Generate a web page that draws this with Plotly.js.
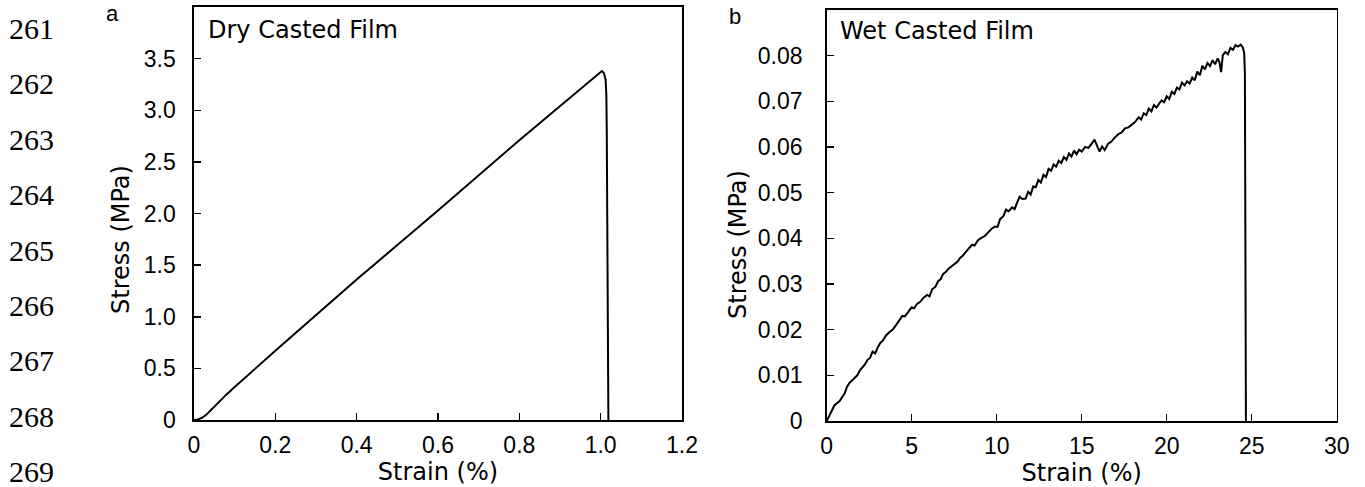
<!DOCTYPE html>
<html>
<head>
<meta charset="utf-8">
<script src="https://cdn.plot.ly/plotly-3.0.1.min.js"></script>
<style>html,body{margin:0;padding:0;background:#fff;}#chart{width:1365px;height:487px;}</style>
</head>
<body>
<div id="chart"></div>
<script>
// ---- Panel a: Dry Casted Film ----
var dryStrain = [0, 0.01, 0.02, 0.03, 0.04, 0.06, 0.08, 0.10, 0.20, 0.40, 0.60, 0.80, 0.95, 1.003, 1.008, 1.012, 1.014, 1.015, 1.019];
var dryStress = [0, 0.006, 0.022, 0.05, 0.09, 0.172, 0.248, 0.32, 0.67, 1.36, 2.03, 2.71, 3.21, 3.38, 3.36, 3.30, 3.15, 2.80, 0];

// ---- Panel b: Wet Casted Film ----
var wetStrain = [0.00,0.15,0.30,0.45,0.60,0.75,0.90,1.05,1.20,1.35,1.50,1.65,1.80,1.95,2.10,2.25,2.40,2.55,2.70,2.85,
  3.00,3.15,3.30,3.50,3.70,3.90,4.10,4.30,4.45,4.60,4.80,5.00,5.15,5.30,5.50,5.70,5.90,6.05,6.20,6.40,
  6.55,6.70,6.85,7.00,7.15,7.30,7.50,7.70,7.85,8.00,8.20,8.40,8.55,8.70,8.90,9.10,9.30,9.50,9.70,9.90,
  10.05,10.20,10.40,10.55,10.70,10.90,11.05,11.20,11.35,11.50,11.70,11.85,12.00,12.15,12.30,12.45,12.60,12.75,12.90,13.05,
  13.20,13.35,13.50,13.65,13.80,13.95,14.10,14.25,14.40,14.55,14.70,14.85,15.00,15.20,15.40,15.60,15.75,15.90,16.05,16.20,
  16.35,16.55,16.75,16.95,17.15,17.35,17.55,17.75,17.95,18.15,18.35,18.50,18.65,18.80,18.95,19.10,19.25,19.40,19.55,19.70,
  19.85,20.00,20.15,20.30,20.45,20.60,20.75,20.90,21.05,21.20,21.35,21.50,21.65,21.80,21.95,22.10,22.25,22.40,22.55,22.70,
  22.85,23.00,23.10,23.20,23.30,23.45,23.60,23.75,23.90,24.05,24.20,24.35,24.48,24.56,24.60,24.63,24.65,24.66];
var wetStress = [0.0000,0.0012,0.0022,0.0034,0.0039,0.0043,0.0052,0.0060,0.0075,0.0084,0.0089,0.0094,0.0100,0.0111,0.0117,0.0124,0.0134,0.0138,0.0152,0.0148,
  0.0161,0.0171,0.0176,0.0188,0.0195,0.0201,0.0211,0.0222,0.0230,0.0229,0.0240,0.0249,0.0247,0.0256,0.0261,0.0270,0.0276,0.0273,0.0288,0.0294,
  0.0306,0.0310,0.0322,0.0326,0.0333,0.0337,0.0343,0.0349,0.0357,0.0362,0.0371,0.0381,0.0386,0.0384,0.0396,0.0401,0.0405,0.0413,0.0421,0.0426,
  0.0425,0.0442,0.0449,0.0463,0.0459,0.0468,0.0464,0.0478,0.0491,0.0486,0.0487,0.0502,0.0496,0.0514,0.0512,0.0528,0.0522,0.0539,0.0534,0.0552,
  0.0548,0.0562,0.0557,0.0570,0.0565,0.0578,0.0572,0.0586,0.0579,0.0592,0.0584,0.0594,0.0590,0.0600,0.0598,0.0608,0.0616,0.0603,0.0590,0.0601,
  0.0593,0.0607,0.0612,0.0621,0.0628,0.0632,0.0641,0.0643,0.0650,0.0655,0.0665,0.0660,0.0674,0.0670,0.0684,0.0678,0.0692,0.0686,0.0695,0.0702,
  0.0698,0.0711,0.0705,0.0721,0.0716,0.0730,0.0726,0.0741,0.0735,0.0744,0.0739,0.0752,0.0746,0.0765,0.0757,0.0778,0.0770,0.0784,0.0777,0.0790,
  0.0781,0.0794,0.0786,0.0764,0.0801,0.0808,0.0803,0.0817,0.0813,0.0823,0.0820,0.0824,0.0818,0.0805,0.0760,0.0500,0.0200,0.0000];

// ---- Tick labels ----
var dryXTicks = [0, 0.2, 0.4, 0.6, 0.8, 1.0, 1.2];
var dryXLabels = ["0", "0.2", "0.4", "0.6", "0.8", "1.0", "1.2"];
var dryYTicks = [0, 0.5, 1.0, 1.5, 2.0, 2.5, 3.0, 3.5];
var dryYLabels = ["0", "0.5", "1.0", "1.5", "2.0", "2.5", "3.0", "3.5"];
var wetXTicks = [0, 5, 10, 15, 20, 25, 30];
var wetXLabels = ["0", "5", "10", "15", "20", "25", "30"];
var wetYTicks = [0, 0.01, 0.02, 0.03, 0.04, 0.05, 0.06, 0.07, 0.08];
var wetYLabels = ["0", "0.01", "0.02", "0.03", "0.04", "0.05", "0.06", "0.07", "0.08"];

var lineNumbers = ["261", "262", "263", "264", "265", "266", "267", "268", "269"];

var W = 1365, H = 487;
function px(x) { return x / W; }
function py(y) { return 1 - y / H; }

var tickFont = {family: "Liberation Sans, Arial, sans-serif", size: 23, color: "#000"};
var titleFont = {family: "DejaVu Sans, sans-serif", size: 24, color: "#000"};

function axisBase(extra) {
  var a = {
    showgrid: false, zeroline: false, showline: true, mirror: true,
    linecolor: "#000", linewidth: 1.6,
    ticks: "inside", ticklen: 7, tickwidth: 1.5, tickcolor: "#000",
    tickfont: tickFont, tickmode: "array", fixedrange: true
  };
  for (var k in extra) a[k] = extra[k];
  return a;
}

var traces = [
  {x: dryStrain, y: dryStress, type: "scatter", mode: "lines", line: {color: "#000", width: 2}, xaxis: "x", yaxis: "y", hoverinfo: "skip"},
  {x: wetStrain, y: wetStress, type: "scatter", mode: "lines", line: {color: "#000", width: 2}, xaxis: "x2", yaxis: "y2", hoverinfo: "skip"}
];

var annotations = [];
lineNumbers.forEach(function (t, i) {
  annotations.push({text: t, xref: "paper", yref: "paper", x: px(7), y: py(28.5 + 55.4 * i),
    xanchor: "left", yanchor: "middle", showarrow: false,
    font: {family: "Liberation Serif, Times New Roman, serif", size: 30, color: "#000"}});
});
annotations.push({text: "a", xref: "paper", yref: "paper", x: px(112), y: py(14), xanchor: "center", yanchor: "middle",
  showarrow: false, font: {family: "Liberation Sans, Arial, sans-serif", size: 22, color: "#000"}});
annotations.push({text: "b", xref: "paper", yref: "paper", x: px(735), y: py(16), xanchor: "center", yanchor: "middle",
  showarrow: false, font: {family: "Liberation Sans, Arial, sans-serif", size: 22, color: "#000"}});
annotations.push({text: "Dry Casted Film", xref: "paper", yref: "paper", x: px(206), y: py(30), xanchor: "left", yanchor: "middle",
  showarrow: false, font: titleFont});
annotations.push({text: "Wet Casted Film", xref: "paper", yref: "paper", x: px(838), y: py(31), xanchor: "left", yanchor: "middle",
  showarrow: false, font: titleFont});
annotations.push({text: "Stress (MPa)", xref: "paper", yref: "paper", x: px(121), y: py(240), xanchor: "center", yanchor: "middle",
  textangle: -90, showarrow: false, font: titleFont});
annotations.push({text: "Stress (MPa)", xref: "paper", yref: "paper", x: px(738), y: py(245), xanchor: "center", yanchor: "middle",
  textangle: -90, showarrow: false, font: titleFont});

var layout = {
  width: W, height: H,
  margin: {l: 0, r: 0, t: 0, b: 0, pad: 0},
  paper_bgcolor: "#fff", plot_bgcolor: "#fff",
  showlegend: false,
  xaxis: axisBase({domain: [px(194), px(682)], range: [0, 1.2], tickvals: dryXTicks, ticktext: dryXLabels,
    anchor: "y", ticklabelstandoff: 4, title: {text: "Strain (%)", font: titleFont, standoff: 4}}),
  yaxis: axisBase({domain: [py(420), py(7)], range: [0, 4.0], tickvals: dryYTicks, ticktext: dryYLabels,
    anchor: "x", ticklabelstandoff: 12}),
  xaxis2: axisBase({domain: [px(826.7), px(1336.7)], range: [0, 30], tickvals: wetXTicks, ticktext: wetXLabels,
    anchor: "y2", ticklabelstandoff: 4, title: {text: "Strain (%)", font: titleFont, standoff: 4}}),
  yaxis2: axisBase({domain: [py(421), py(10)], range: [0, 0.09], tickvals: wetYTicks, ticktext: wetYLabels,
    anchor: "x2", ticklabelstandoff: 18}),
  annotations: annotations
};

Plotly.newPlot("chart", traces, layout, {displayModeBar: false, staticPlot: true});
</script>
</body>
</html>
